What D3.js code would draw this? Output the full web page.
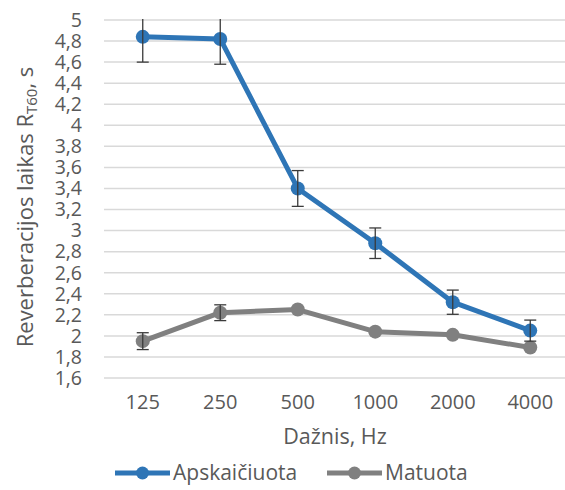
<!DOCTYPE html>
<html>
<head>
<meta charset="utf-8">
<script src="https://cdn.jsdelivr.net/npm/d3@7"></script>
<style>
  html, body { margin: 0; padding: 0; background: #ffffff; }
  svg text { font-family: "Open Sans", "Noto Sans", sans-serif; fill: #595959; }
</style>
</head>
<body>
<svg id="chart" width="565" height="490"></svg>
<script>
// Frequency bands (Hz)
const categories = ["125", "250", "500", "1000", "2000", "4000"];
// Calculated reverberation time, s
const calculated = [4.84, 4.82, 3.40, 2.88, 2.32, 2.05];
const calculatedErr = [0.24, 0.24, 0.17, 0.145, 0.115, 0.10];
// Measured reverberation time, s
const measured = [1.95, 2.22, 2.25, 2.04, 2.01, 1.89];
const measuredErr = [0.08, 0.075, 0, 0, 0, 0];
// Y axis ticks
const yTicks = [1.6, 1.8, 2, 2.2, 2.4, 2.6, 2.8, 3, 3.2, 3.4, 3.6, 3.8, 4, 4.2, 4.4, 4.6, 4.8, 5];
const seriesNames = ["Apskaičiuota", "Matuota"];
const colors = ["#2E75B6", "#808080"];

const svg = d3.select("#chart");
const margin = { left: 104, right: -4, top: 20, bottom: 112 };
const W = 565, H = 490;

const x = d3.scalePoint().domain(categories).range([margin.left, W - margin.right]).padding(0.5);
const y = d3.scaleLinear().domain([1.6, 5]).range([H - margin.bottom, margin.top]);

// Gridlines
svg.append("g").selectAll("line").data(yTicks).join("line")
  .attr("x1", margin.left).attr("x2", W - margin.right)
  .attr("y1", d => y(d)).attr("y2", d => y(d))
  .attr("stroke", "#d9d9d9").attr("stroke-width", 1.5);

// Y tick labels (decimal comma)
const fmt = d => String(+d.toFixed(1)).replace(".", ",");
svg.append("g").selectAll("text").data(yTicks).join("text")
  .attr("x", 82).attr("y", d => y(d)).attr("dy", "0.35em")
  .attr("text-anchor", "end").attr("font-size", 19.5)
  .text(fmt);

// X tick labels
svg.append("g").selectAll("text").data(categories).join("text")
  .attr("x", d => x(d)).attr("y", 402).attr("dy", "0.35em")
  .attr("text-anchor", "middle").attr("font-size", 20)
  .text(d => d);

// Axis titles
svg.append("text").attr("x", 335).attr("y", 436).attr("dy", "0.35em")
  .attr("text-anchor", "middle").attr("font-size", 21.5).text("Dažnis, Hz");

const yt = svg.append("text")
  .attr("transform", `translate(33,207) rotate(-90)`)
  .attr("text-anchor", "middle").attr("font-size", 22);
yt.append("tspan").text("Reverberacijos laikas R");
yt.append("tspan").attr("font-size", 15).attr("dy", 4).text("T60");
yt.append("tspan").attr("dy", -4).text(", s");

svg.append("clipPath").attr("id", "plotclip").append("rect")
  .attr("x", margin.left).attr("y", margin.top - 1)
  .attr("width", W).attr("height", H - margin.bottom - margin.top + 2);

const series = [
  { values: calculated, err: calculatedErr, color: colors[0] },
  { values: measured, err: measuredErr, color: colors[1] }
];

const line = d3.line().x((d, i) => x(categories[i])).y(d => y(d));

// Draw measured first so the calculated series sits on top
[series[1], series[0]].forEach(s => {
  const g = svg.append("g");
  g.append("path").datum(s.values)
    .attr("d", line).attr("fill", "none")
    .attr("stroke", s.color).attr("stroke-width", 5).attr("stroke-linejoin", "round");
  g.selectAll("circle").data(s.values).join("circle")
    .attr("cx", (d, i) => x(categories[i])).attr("cy", d => y(d))
    .attr("r", 7).attr("fill", s.color);
  // Error bars
  const eb = g.append("g").attr("clip-path", "url(#plotclip)")
    .selectAll("g").data(s.values.map((v, i) => ({ v, e: s.err[i], c: categories[i] })).filter(d => d.e > 0))
    .join("g");
  eb.append("line")
    .attr("x1", d => x(d.c)).attr("x2", d => x(d.c))
    .attr("y1", d => y(d.v + d.e)).attr("y2", d => y(d.v - d.e))
    .attr("stroke", "#3a3a3a").attr("stroke-width", 1.3);
  [1, -1].forEach(sign => {
    eb.append("line")
      .attr("x1", d => x(d.c) - 6).attr("x2", d => x(d.c) + 6)
      .attr("y1", d => y(d.v + sign * d.e)).attr("y2", d => y(d.v + sign * d.e))
      .attr("stroke", "#3a3a3a").attr("stroke-width", 1.3);
  });
});

// Legend
const legend = [
  { name: seriesNames[0], color: colors[0], x0: 115 },
  { name: seriesNames[1], color: colors[1], x0: 327 }
];
const lg = svg.append("g").selectAll("g").data(legend).join("g")
  .attr("transform", d => `translate(${d.x0},473)`);
lg.append("line").attr("x1", 0).attr("x2", 55).attr("y1", 0).attr("y2", 0)
  .attr("stroke", d => d.color).attr("stroke-width", 5);
lg.append("circle").attr("cx", 27.5).attr("cy", 0).attr("r", 6.5).attr("fill", d => d.color);
lg.append("text").attr("x", 58).attr("y", 0).attr("dy", "0.35em")
  .attr("font-size", 21).text(d => d.name);
</script>
</body>
</html>
